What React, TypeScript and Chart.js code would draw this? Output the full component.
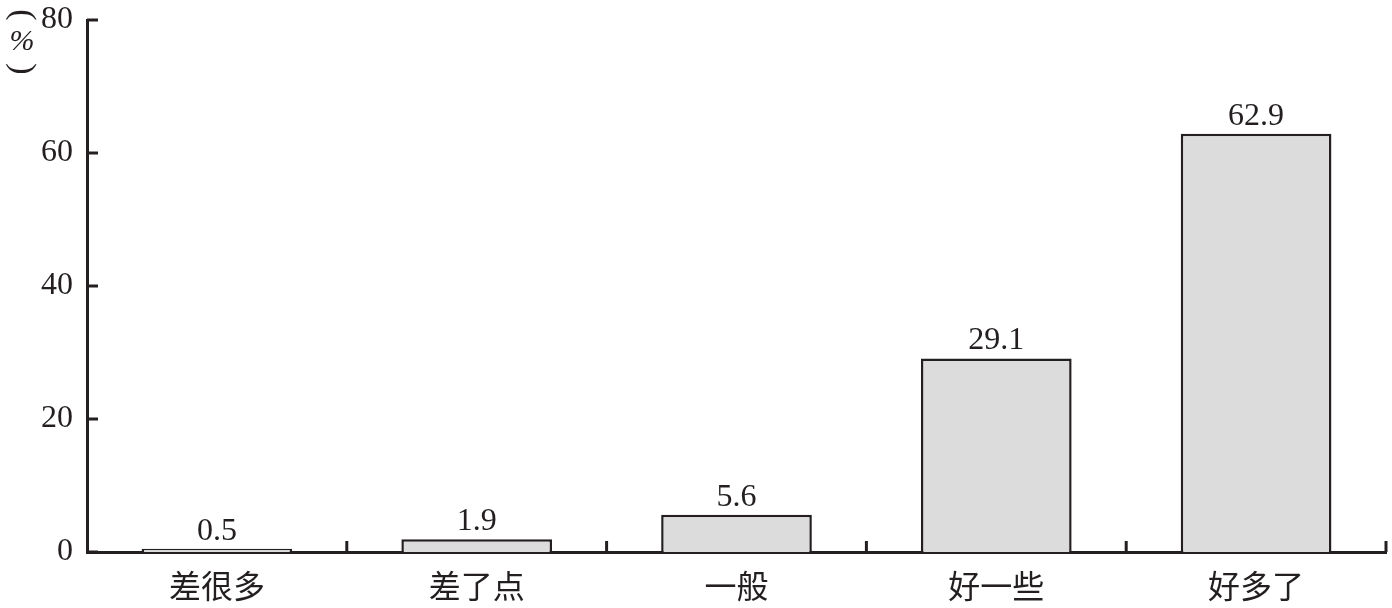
import React, { useEffect, useRef } from "react";
import { Chart, registerables } from "chart.js";

Chart.register(...registerables);

const categories = ["差很多", "差了点", "一般", "好一些", "好多了"];
const values = [0.5, 1.9, 5.6, 29.1, 62.9];
const yTicks = [0, 20, 40, 60, 80];
const unitLabel = "%";

const INK = "#231f20";
const FILL = "#dcdcdc";
const NUM_FONT = '"Liberation Serif", "Times New Roman", serif';
const CJK_FONT = '"Liberation Serif", "Noto Sans CJK SC", serif';

const decorPlugin = {
  id: "decor",
  afterDatasetsDraw(chart: any) {
    const ctx = chart.ctx as CanvasRenderingContext2D;
    const xs = chart.scales.x;
    const ys = chart.scales.y;
    ctx.save();
    ctx.strokeStyle = INK;
    ctx.lineWidth = 3;
    // inward y ticks
    yTicks.forEach((v) => {
      const py = ys.getPixelForValue(v);
      ctx.beginPath();
      ctx.moveTo(xs.left, py);
      ctx.lineTo(xs.left + 11, py);
      ctx.stroke();
    });
    // inward x ticks at category boundaries
    for (let i = 0; i < categories.length; i++) {
      const px = xs.getPixelForValue(i + 0.5);
      ctx.beginPath();
      ctx.moveTo(px, ys.bottom);
      ctx.lineTo(px, ys.bottom - 11);
      ctx.stroke();
    }
    // value labels
    const meta = chart.getDatasetMeta(0);
    ctx.fillStyle = INK;
    ctx.font = `32px ${NUM_FONT}`;
    ctx.textAlign = "center";
    ctx.textBaseline = "alphabetic";
    meta.data.forEach((bar: any, i: number) => {
      ctx.fillText(values[i].toFixed(1), bar.x, bar.y - 9);
    });
    // unit label (vertical parentheses)
    const ux = 22;
    ctx.font = `34px ${NUM_FONT}`;
    ctx.textBaseline = "middle";
    ctx.save();
    ctx.translate(ux, 15);
    ctx.rotate(Math.PI / 2);
    ctx.fillText("(", 0, 0);
    ctx.restore();
    ctx.font = `italic 30px ${NUM_FONT}`;
    ctx.fillText(unitLabel, ux, 42);
    ctx.font = `34px ${NUM_FONT}`;
    ctx.save();
    ctx.translate(ux, 69);
    ctx.rotate(Math.PI / 2);
    ctx.fillText(")", 0, 0);
    ctx.restore();
    ctx.restore();
  },
};

export default function App() {
  const ref = useRef<HTMLCanvasElement | null>(null);
  useEffect(() => {
    if (!ref.current) return;
    const chart = new Chart(ref.current, {
      type: "bar",
      data: {
        labels: categories,
        datasets: [
          {
            data: values,
            backgroundColor: FILL,
            borderColor: INK,
            borderWidth: 2.5,
            borderSkipped: "bottom",
            barPercentage: 0.58,
            categoryPercentage: 1,
          },
        ],
      },
      options: {
        responsive: false,
        animation: false,
        devicePixelRatio: 1,
        layout: { padding: { top: 20, right: 6, left: 0, bottom: 0 } },
        plugins: {
          legend: { display: false },
          tooltip: { enabled: false },
        },
        scales: {
          x: {
            offset: true,
            grid: { display: false, drawTicks: false, offset: true },
            border: { display: true, color: INK, width: 3 },
            ticks: {
              color: INK,
              padding: 18,
              font: { size: 32, family: CJK_FONT },
            },
            afterFit: (s: any) => {
              s.height = 56;
              s.paddingLeft = 0;
              s.paddingRight = 0;
            },
          },
          y: {
            min: 0,
            max: 80,
            afterBuildTicks: (s: any) => {
              s.ticks = yTicks.map((v) => ({ value: v }));
            },
            grid: { display: false, drawTicks: false },
            border: { display: true, color: INK, width: 3 },
            ticks: {
              color: INK,
              padding: 14,
              font: { size: 32, family: NUM_FONT },
            },
            afterFit: (s: any) => {
              s.width = 87;
              s.paddingTop = 0;
              s.paddingBottom = 0;
            },
          },
        },
      },
      plugins: [decorPlugin],
    } as any);
    return () => chart.destroy();
  }, []);
  return (
    <div style={{ position: "absolute", left: 0, top: 0, width: 1392, height: 608, background: "#fff" }}>
      <canvas ref={ref} width={1392} height={608} />
    </div>
  );
}
